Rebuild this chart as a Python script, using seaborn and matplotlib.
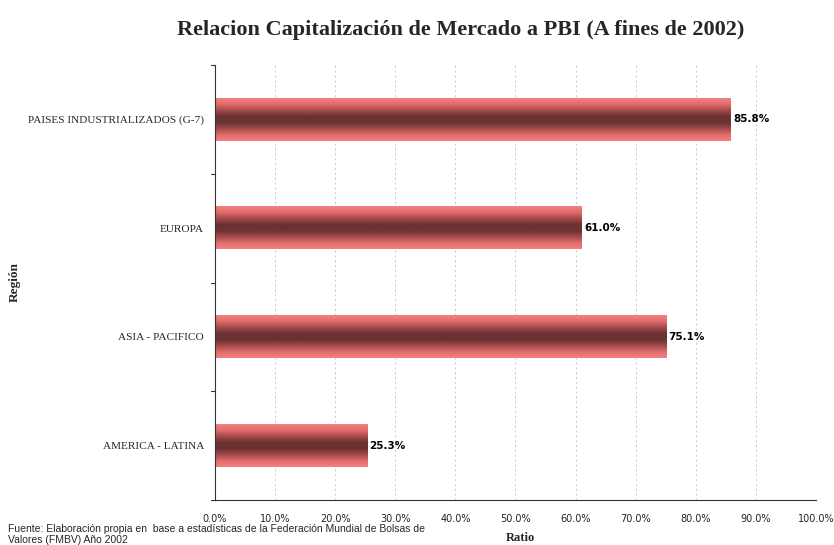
import numpy as np
import pandas as pd
import matplotlib
matplotlib.use('Agg')
import matplotlib.pyplot as plt
import seaborn as sns
from matplotlib.colors import LinearSegmentedColormap

regions = ['PAISES INDUSTRIALIZADOS (G-7)', 'EUROPA', 'ASIA - PACIFICO', 'AMERICA - LATINA']
ratios = [85.8, 61.0, 75.1, 25.3]
x_ticks = list(range(0, 101, 10))

df = pd.DataFrame({'region': regions, 'ratio': ratios})

sns.set_style('white')
fig = plt.figure(figsize=(8.34, 5.45), dpi=100)
ax = fig.add_axes([0.2578, 0.0826, 0.7206, 0.7981])

sns.barplot(data=df, y='region', x='ratio', orient='h', width=0.39,
            color='#f08080', ax=ax, zorder=2)

# gradient fill: light salmon edges, dark maroon centre
cmap = LinearSegmentedColormap.from_list(
    'bar', ['#f58080', '#e26c6c', '#a44a4a', '#6b3232', '#6b3232', '#a44a4a', '#e26c6c', '#f58080'])
grad = np.linspace(0, 1, 256).reshape(-1, 1)
for p in ax.patches:
    x0, y0 = p.get_x(), p.get_y()
    w, h = p.get_width(), p.get_height()
    p.set_facecolor('none')
    p.set_edgecolor('none')
    ax.imshow(grad, cmap=cmap, aspect='auto', extent=[x0, x0 + w, y0 + h, y0],
              interpolation='bicubic', zorder=2)
    ax.text(x0 + w + 0.4, y0 + h / 2, f'{w:.1f}%', va='center', ha='left',
            fontsize=7.5, fontweight='bold', family='DejaVu Sans', color='black')

ax.set_xlim(0, 100)
ax.set_ylim(len(regions) - 0.5, -0.5)
ax.set_xticks(x_ticks)
ax.set_xticklabels([f'{t:.1f}%' for t in x_ticks], fontsize=7.0, family='DejaVu Sans',
                   color='#222222')
ax.set_yticks(range(len(regions)))
ax.set_yticklabels(regions, fontsize=8.1, family='Liberation Serif')
ax.tick_params(axis='y', length=0, pad=8)
ax.tick_params(axis='x', length=4, direction='inout', color='#333333', pad=8)
# category boundary ticks on the y spine
for yb in np.arange(-0.5, len(regions), 1):
    ax.plot([-0.6, 0], [yb, yb], color='#333333', lw=0.8, clip_on=False, zorder=3)

ax.grid(axis='x', linestyle=(0, (2, 3)), color='#c8c8c8', lw=0.7, zorder=0)
ax.set_axisbelow(True)
for s in ['top', 'right']:
    ax.spines[s].set_visible(False)
for s in ['left', 'bottom']:
    ax.spines[s].set_color('#333333')
    ax.spines[s].set_linewidth(0.8)

ax.set_xlabel('')
ax.set_ylabel('')
fig.text(0.552, 0.945, 'Relacion Capitalización de Mercado a PBI (A fines de 2002)',
         ha='center', va='center', fontsize=16, fontweight='bold', family='Liberation Serif')
fig.text(0.018, 0.483, 'Región', rotation=90, ha='center', va='center',
         fontsize=9.5, fontweight='bold', family='Liberation Serif')
fig.text(0.624, 0.013, 'Ratio', ha='center', va='center',
         fontsize=9, fontweight='bold', family='Liberation Serif')
fig.text(0.01, 0.039, 'Fuente: Elaboración propia en  base a estadísticas de la Federación Mundial de Bolsas de\nValores (FMBV) Año 2002',
         ha='left', va='top', fontsize=7.5, family='Liberation Sans', linespacing=1.1)

fig.savefig('out.png', dpi=100)
